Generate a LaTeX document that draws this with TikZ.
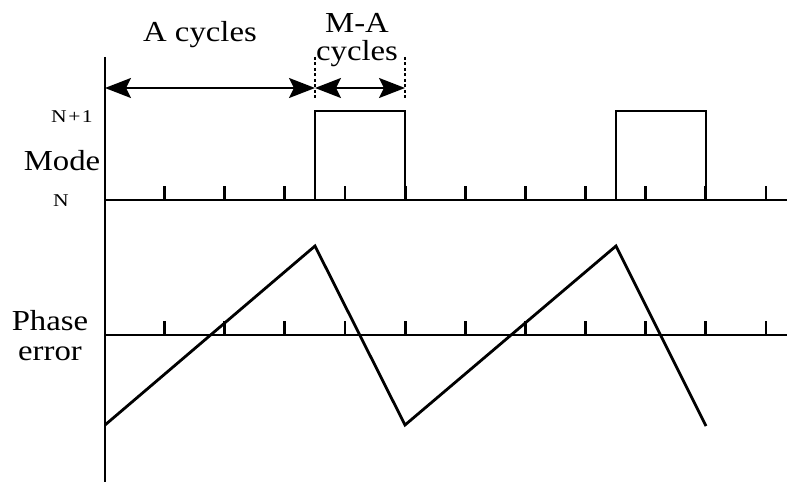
\documentclass[tikz,border=0pt]{standalone}
\usepackage{fontspec}
\setmainfont{Liberation Serif}
\newfontfamily\widefont[FakeStretch=1.13]{Liberation Serif}
\newfontfamily\lvlfont[FakeStretch=1.2]{Liberation Serif}
\usetikzlibrary{arrows.meta, positioning}

\begin{document}
\begin{tikzpicture}[
    x=1pt, y=-1pt,
    line width=2.8pt,
    >={Stealth[length=26pt, width=20pt, inset=5pt]},
    biglabel/.style={font=\widefont\fontsize{29}{29}\selectfont, inner sep=0pt, align=center},
    lvllabel/.style={font=\lvlfont\fontsize{18}{18}\selectfont, inner sep=0pt, anchor=base},
    guide/.style={line width=1.8pt, dash pattern=on 3pt off 2.5pt},
]
    \useasboundingbox (0,0) rectangle (787,484);

    % Axes
    \coordinate (top) at (105,57);
    \coordinate (bot) at (105,482);
    \coordinate (m0) at (105,200);
    \coordinate (m1) at (787,200);
    \coordinate (p0) at (105,335);
    \coordinate (p1) at (787,335);
    \draw (top) -- (bot);
    \draw (m0) -- (m1);
    \draw (p0) -- (p1);

    % Ticks
    \foreach \i in {0,...,10} {
        \draw ({164.5+60.15*\i},186) -- ({164.5+60.15*\i},200);
        \draw ({164.5+60.15*\i},321) -- ({164.5+60.15*\i},335);
    }

    % Mode signal
    \draw[line join=miter] (315,200) -- (315,111) -- (405,111) -- (405,200);
    \draw[line join=miter] (616,200) -- (616,111) -- (706,111) -- (706,200);

    % Phase error
    \draw[line join=miter] (105,425) -- (315,246) -- (405,425) -- (616,246) -- (706,426);

    % Cycle markers
    \coordinate (a0) at (105,88);
    \coordinate (a1) at (315,88);
    \coordinate (a2) at (405,88);
    \draw[guide] (315,57) -- (315,100);
    \draw[guide] (405,57) -- (405,100);
    \draw[<->, line width=2.2pt] (a0) -- (a1);
    \draw[<->, line width=2.2pt] (a1) -- (a2);

    % Labels
    \node[biglabel, anchor=base] (acyc) at (200,42) {A cycles};
    \node[biglabel, anchor=north] (macyc) at (357,12) {M-A\\[-1pt]cycles};
    \node[lvllabel] (hi) at (72,123) {N\kern1.5pt+\kern1.5pt1};
    \node[biglabel, anchor=base] (mode) at (62,170) {Mode};
    \node[lvllabel] (lo) at (61,206) {N};
    \node[biglabel, anchor=north] (phase) at (50,309) {Phase\\[1pt]error};
\end{tikzpicture}
\end{document}
